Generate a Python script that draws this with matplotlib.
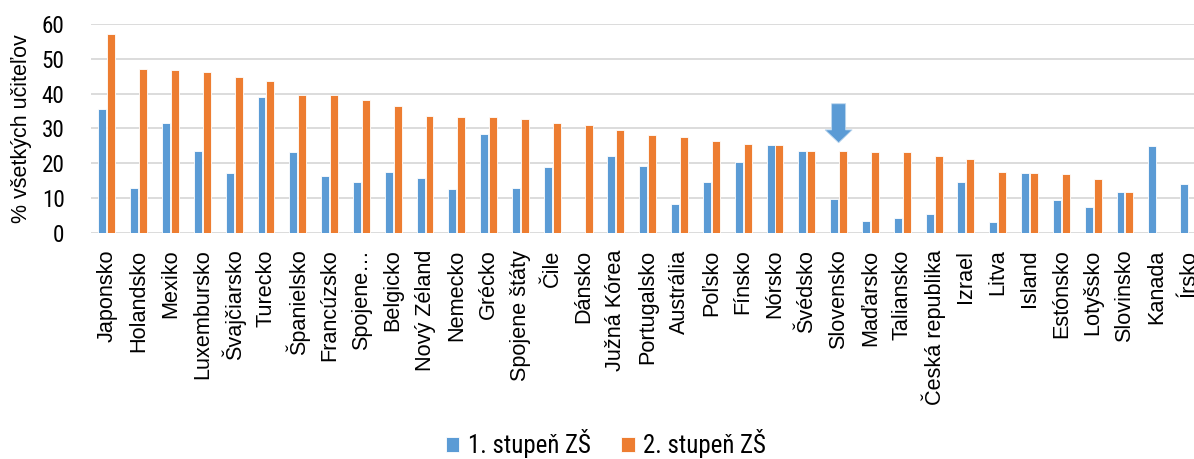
import numpy as np
import matplotlib
matplotlib.use("Agg")
import matplotlib.pyplot as plt
from matplotlib import font_manager
from matplotlib.font_manager import FontProperties
from matplotlib.textpath import TextPath
from matplotlib.patches import FancyArrow

categories = [
    "Japonsko", "Holandsko", "Mexiko", "Luxembursko", "Švajčiarsko", "Turecko",
    "Španielsko", "Francúzsko", "Spojene…", "Belgicko", "Nový Zéland", "Nemecko",
    "Grécko", "Spojene štáty", "Čile", "Dánsko", "Južná Kórea", "Portugalsko",
    "Austrália", "Poľsko", "Fínsko", "Nórsko", "Švédsko", "Slovensko",
    "Maďarsko", "Taliansko", "Česká republika", "Izrael", "Litva", "Island",
    "Estónsko", "Lotyšsko", "Slovinsko", "Kanada", "Írsko",
]
stupen1 = [
    35.7, 12.9, 31.6, 23.5, 17.2, 38.9, 23.2, 16.5, 14.7, 17.5, 15.9, 12.6,
    28.5, 12.8, 19.0, np.nan, 22.1, 19.1, 8.2, 14.6, 20.4, 25.3, 23.6, 9.8,
    3.4, 4.2, 5.5, 14.6, 3.2, 17.2, 9.4, 7.6, 11.9, 25.1, 14.2,
]
stupen2 = [
    57.2, 47.0, 46.7, 46.3, 44.9, 43.6, 39.7, 39.5, 38.2, 36.5, 33.5, 33.3,
    33.2, 32.8, 31.5, 30.9, 29.7, 28.1, 27.6, 26.4, 25.5, 25.3, 23.6, 23.5,
    23.3, 23.3, 22.1, 21.3, 17.4, 17.2, 16.9, 15.4, 11.9, np.nan, np.nan,
]
series_names = ["1. stupeň ZŠ", "2. stupeň ZŠ"]
y_ticks = [0, 10, 20, 30, 40, 50, 60]
y_label = "% všetkých učiteľov"
highlight = "Slovensko"

BLUE = "#5B9BD5"
ORANGE = "#ED7D31"
GRID = "#D9D9D9"

installed = {f.name for f in font_manager.fontManager.ttflist}
REGULAR = "Liberation Sans" if "Liberation Sans" in installed else "DejaVu Sans"


def find_narrow():
    # look for an Arial-Narrow-like face, fall back to the regular one
    entries = font_manager.fontManager.ttflist
    wanted = ["Liberation Sans Narrow", "Arial Narrow", "Roboto Condensed",
              "Open Sans Condensed", "Noto Sans Condensed", "DejaVu Sans Condensed"]
    for name in wanted:
        for f in entries:
            if f.name == name and f.style == "normal" and f.weight in (400, "normal", "regular"):
                return FontProperties(fname=f.fname)
    for base in ["Roboto", "Noto Sans", "Open Sans", "DejaVu Sans"]:
        for f in entries:
            if (f.name == base and f.stretch == "condensed" and f.style == "normal"
                    and f.weight in (400, "normal", "regular")):
                return FontProperties(fname=f.fname)
    return FontProperties(family=REGULAR)


def fit_size(prop, text, target_px):
    w = TextPath((0, 0), text, size=1, prop=prop).get_extents().width
    return target_px * 0.72 / w


narrow = find_narrow()
tick_prop = narrow.copy()
tick_prop.set_size(fit_size(narrow, "60", 20))
legend_prop = narrow.copy()
legend_prop.set_size(fit_size(narrow, series_names[0], 120))

fig = plt.figure(figsize=(11.94, 4.59), dpi=100)
ax = fig.add_axes([0.0762, 0.4924, 0.9238, 0.4553])

x = np.arange(len(categories))
bar_w = 0.25
off = 0.14
ax.bar(x - off, stupen1, bar_w, color=BLUE, edgecolor="white", linewidth=0.6,
       label=series_names[0], zorder=3)
ax.bar(x + off, stupen2, bar_w, color=ORANGE, edgecolor="white", linewidth=0.6,
       label=series_names[1], zorder=3)

ax.set_xlim(-0.5, 34.17)
ax.set_ylim(0, 60)
ax.set_yticks(y_ticks)
ax.set_yticklabels([str(v) for v in y_ticks], fontproperties=tick_prop)
ax.set_xticks(x)
ax.set_xticklabels(categories, rotation=90, ha="center", va="top",
                   fontfamily=REGULAR, fontsize=15.6)
ax.tick_params(axis="y", length=0, pad=19)
ax.tick_params(axis="x", length=0, pad=12)

ax.yaxis.grid(True, color=GRID, linewidth=1.3, zorder=0)
for s in ax.spines.values():
    s.set_visible(False)
ax.set_axisbelow(True)

fig.text(22 / 1194, 0.72, y_label, rotation=90, ha="center", va="center",
         fontfamily=REGULAR, fontsize=15.5)

# arrow pointing at Slovakia
hi = categories.index(highlight)
arrow_top, arrow_tip = 37.1, 25.9
ax.add_patch(FancyArrow(hi, arrow_top, 0, arrow_tip - arrow_top, width=0.44,
                        head_width=0.85, head_length=3.7,
                        length_includes_head=True, facecolor=BLUE,
                        edgecolor="#BDD7EE", linewidth=0.6, zorder=4))

fig.legend(loc="center", bbox_to_anchor=(606 / 1194, 15 / 459), ncol=2,
           frameon=False, handlelength=0.55, handleheight=0.55,
           handletextpad=0.35, columnspacing=1.2, prop=legend_prop)

fig.savefig("out.png", dpi=100)
